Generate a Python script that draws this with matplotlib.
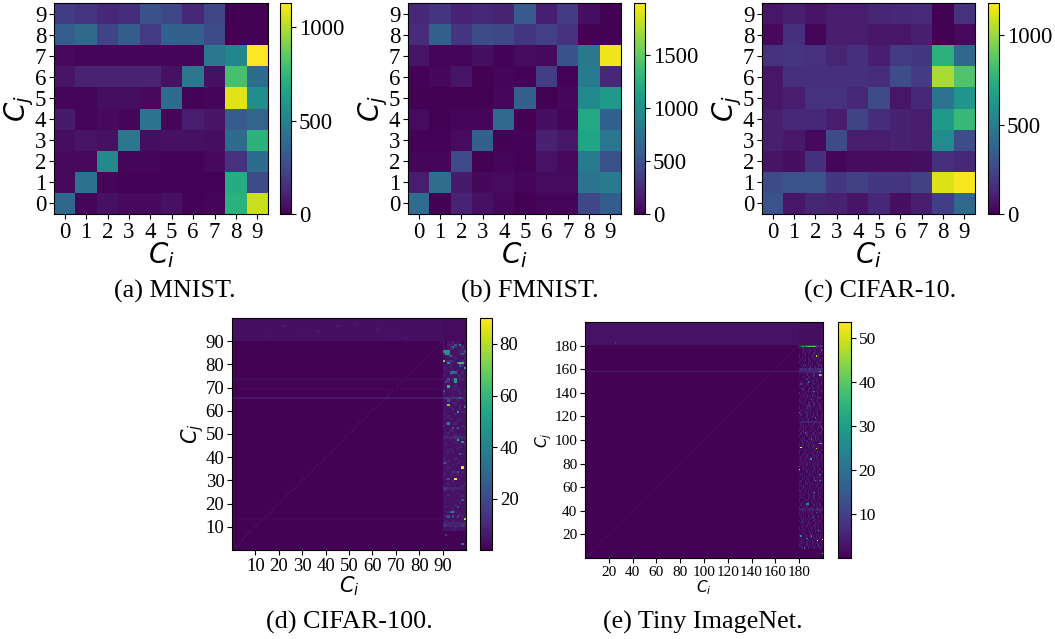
import matplotlib
matplotlib.use('Agg')
import matplotlib.pyplot as plt
import numpy as np

W, H = 1055, 639
plt.rcParams['font.family'] = ['Liberation Serif', 'DejaVu Serif']
plt.rcParams['mathtext.fontset'] = 'dejavusans'

# rows are listed from Cj = 0 upward
mnist = [
    [380, 15, 50, 30, 30, 50, 10, 15, 720, 1040],
    [30, 420, 15, 10, 10, 10, 10, 10, 700, 260],
    [30, 30, 540, 15, 15, 10, 10, 30, 160, 400],
    [40, 60, 50, 450, 40, 50, 50, 40, 400, 730],
    [80, 20, 30, 20, 430, 15, 90, 60, 330, 370],
    [20, 20, 40, 40, 30, 400, 10, 20, 1080, 560],
    [60, 110, 110, 110, 110, 50, 450, 50, 800, 400],
    [30, 15, 15, 15, 15, 15, 15, 450, 520, 1130],
    [340, 390, 230, 330, 190, 350, 350, 260, 0, 0],
    [200, 170, 130, 150, 280, 240, 130, 240, 0, 0],
]
fmnist = [
    [710, 10, 190, 90, 40, 5, 30, 30, 420, 590],
    [150, 710, 140, 40, 60, 30, 60, 60, 760, 820],
    [30, 25, 440, 10, 30, 20, 100, 50, 830, 500],
    [20, 20, 60, 620, 10, 20, 180, 130, 1170, 780],
    [60, 15, 30, 30, 680, 5, 80, 30, 1200, 620],
    [10, 10, 10, 5, 40, 610, 10, 40, 950, 1080],
    [20, 40, 110, 15, 30, 20, 360, 20, 810, 220],
    [110, 30, 30, 80, 20, 60, 50, 500, 800, 1950],
    [250, 620, 310, 460, 430, 320, 380, 290, 5, 5],
    [230, 300, 200, 230, 200, 570, 170, 340, 80, 10],
]
cifar10 = [
    [300, 70, 120, 110, 60, 130, 50, 90, 220, 410],
    [270, 300, 300, 190, 230, 190, 180, 230, 1120, 1170],
    [60, 50, 160, 20, 40, 40, 40, 50, 160, 130],
    [100, 80, 30, 270, 90, 90, 110, 90, 570, 280],
    [100, 130, 130, 90, 240, 150, 110, 90, 640, 790],
    [70, 90, 170, 170, 130, 270, 70, 130, 450, 620],
    [70, 160, 160, 160, 160, 150, 280, 210, 1030, 860],
    [170, 180, 170, 120, 160, 100, 200, 190, 760, 400],
    [30, 160, 15, 90, 90, 70, 70, 100, 5, 30],
    [70, 100, 60, 90, 90, 120, 130, 140, 5, 170],
]

# CIFAR-100 right strip, one string per row from Cj = 89 down, digit x 4
strip_100 = """
1011211101 1022111211 1012231131 1112212121 1111111221 2211111212 1122211111 1111121112
1223211121 1122112122 1112111121 2112111111 1211212111 1111211121 2112112211 1111111211
1111211221 1221121111 1111111111 1121121111 1111221211 1111112112 2111111211 1111211111
3333334331 1112112112 1111221111 1211121212 1112111211 1111211211 1211111122 2111121111
1121111111 1112111211 1111112111 1211121111 2111111121 1111112112 1112211111 1121111111
1211121211 2222233222 1112111111 1111121121 1211111112 1111111211 1112112111 1121211111
1211111121 1111111111 2111121111 1221111211 1111112111 1111211111 1121111121 1211111111
1111121121 2112112111 1111111111 1211111211 1111211111 1121111112 1111111121 3322222221
1211211111 1111112111 1121111121 1111111111 1211112111 1111111211 1111121111 1211111111
1111211111 1121121111 1111111211 1211111121 1111111111 1211211111 2222222222 3322222232
1111121111 1111211111
""".split()

# Tiny ImageNet right strip, one string per two rows from Cj = 179 down, digit x 2
strip_200 = """
33333333333333333333 10041012010201320211 00130010311012010121 10210301200021102101
20010301002110014010 10201002100211031001 01011301210012100310 20101001120100130101
01030102010201004210 00211010130012101021 23332323433323234332 22212222322232222322
10011021001130012010 00121003200120010201 10100130201011301001 01010010210310201021
04201021010021001120 20011201003100112010 01211001200210012010 00102013010200210113
30110201002010021010 01021020100311001001 01020110210010011310 21001201002110130010
01201002400120012011 10020112010021001201 20010021031010110210 01201012011001020110
01002110120010210011 12010021020110130012 11001020110310012011 00210013001101201020
12222223222223222221 01201002110120010201 01020110201200102110 21010201002110012013
10130010211012010021 02010021001120110210 20101020112013021001 01021001201102102011
01201020013020110210 10201012010200102012 20210011201121010020 10201102010210012011
01020110210012011021 20011201102110120110 00211021001020112011 12010021020110211012
11001201102010020110 01120110210012011021 11021020110120112001 20110201002011021001
00120112010021101201 20010020110211012011 01201002110201021001 01102010120110201201
00211012010021020110 12010201100110120112 21001120110201012010 01020101020110210012
10120010210201102110 21001201102010102011 01020112010021001201 11021002110120012011
11201002110120010201 20010211002011021001 10201012010201102010 02011021001020110201
20101020110210112011 22322212232221232222 10120010210201002110 21010201002110102011
01020102110120012011 01120110210012011021 10201102010020110210 01020011201002102011
00210120110021020110 20110201002102011010 01021001201002110201 10201100210201002011
20010210120010201102 01102010021020110201 10210012010201102010 02011020100210120011
21001020110201002011 01201102010020110201
""".split()

# (Ci, Cj, value) cells that stand out, read from the strips
hot_100 = [
    (90, 81, 70), (91, 85, 48), (92, 85, 48), (90, 85, 42), (91, 84, 50), (92, 84, 45), (93, 83, 30),
    (98, 35, 88), (95, 30, 88), (99, 13, 78), (92, 62, 72), (95, 72, 50), (95, 73, 50), (92, 70, 60),
    (99, 78, 55), (97, 80, 62), (98, 80, 60), (96, 80, 45), (92, 80, 45), (96, 59, 52), (92, 54, 40),
    (96, 47, 55), (98, 46, 45), (97, 88, 40), (94, 87, 35), (93, 76, 30), (94, 76, 32), (95, 76, 30),
    (94, 16, 40), (93, 16, 30), (98, 2, 35), (90, 68, 25), (99, 61, 35), (96, 52, 28), (94, 52, 22),
    (97, 65, 28), (91, 65, 18), (92, 64, 20), (90, 37, 20), (91, 37, 18), (96, 33, 22), (94, 33, 18),
    (92, 30, 22), (98, 21, 25), (96, 18, 22), (92, 14, 22), (94, 14, 22), (96, 14, 20), (95, 88, 22),
    (99, 85, 25), (98, 84, 22), (97, 79, 25), (92, 73, 20), (91, 72, 20), (97, 41, 25), (91, 6, 15),
]
hot_200 = [
    (182, 178, 38), (183, 178, 30), (185, 178, 28), (186, 178, 34), (187, 178, 36), (188, 178, 40),
    (189, 178, 40), (190, 178, 36), (191, 178, 40), (192, 178, 42), (193, 178, 35), (194, 170, 48),
    (197, 154, 42), (198, 154, 36), (197, 157, 30), (181, 93, 53), (194, 92, 50), (197, 96, 38),
    (198, 96, 36), (180, 74, 53), (193, 118, 35), (199, 15, 52), (195, 14, 50), (196, 23, 35),
    (181, 18, 28), (190, 18, 28), (189, 83, 28), (190, 83, 30), (187, 45, 30), (186, 45, 26),
    (199, 3, 40), (185, 162, 30), (193, 65, 30), (197, 65, 22), (180, 122, 28), (190, 133, 18),
    (192, 140, 22), (183, 142, 20), (188, 128, 20), (198, 175, 24), (183, 60, 18), (194, 38, 20),
    (185, 105, 22), (192, 55, 18), (196, 10, 22), (184, 8, 18), (198, 110, 20), (187, 148, 24),
    (195, 135, 22), (190, 100, 18), (182, 30, 20), (197, 70, 24), (191, 34, 22), (186, 16, 24),
]
band_100 = [(22, 96, 7), (36, 94, 7), (45, 96, 7), (53, 97, 7), (62, 95, 7), (68, 92, 7), (14, 92, 6), (74, 91, 7), (30, 93, 6)]
band_200 = [(25, 181, 8), (47, 196, 6), (82, 190, 6), (90, 198, 6), (120, 185, 5), (155, 192, 5), (60, 193, 5), (35, 187, 6)]
streaks_100 = [(65, 6), (73, 2.2), (69, 1.6), (13, 1.6)]
streaks_200 = [(157, 3.5)]

ticks_d = [10, 20, 30, 40, 50, 60, 70, 80, 90]
ticks_e = [20, 40, 60, 80, 100, 120, 140, 160, 180]
captions = ['(a) MNIST.', '(b) FMNIST.', '(c) CIFAR-10.', '(d) CIFAR-100.', '(e) Tiny ImageNet.']

fig = plt.figure(figsize=(W / 100, H / 100), dpi=100)


def px_axes(x0, y0, x1, y1):
    return fig.add_axes([x0 / W, 1 - y1 / H, (x1 - x0) / W, (y1 - y0) / H])


def big_matrix(n, split, base, band, corner, diag, streaks, strip, digit, step, hot, spots):
    m = np.full((n, n), float(base))
    m[split:, :] = band
    m[split:, split:] = corner
    m[np.arange(split), np.arange(split)] = diag
    for r, v in streaks:
        m[r, :split] = v
    for k, line in enumerate(strip):
        for r in range(split - 1 - k * step, split - 1 - (k + 1) * step, -1):
            if r >= 0:
                m[r, split:] = [int(c) * digit + 0.5 for c in line]
    for c, r, v in hot + spots:
        m[r, c] = v
    return m


def draw(data, box, cbox, vmin, vmax, cticks, tfs, cfs, lfs, lpad, edges=None, ticks=None):
    ax = px_axes(*box)
    cax = px_axes(*cbox)
    m = np.array(data, dtype=float)
    if edges is None:
        im = ax.imshow(m, origin='lower', cmap='viridis', vmin=vmin, vmax=vmax, aspect='auto', interpolation='nearest')
        ax.set_xticks(range(10))
        ax.set_yticks(range(10))
    else:
        im = ax.imshow(m, origin='lower', cmap='viridis', vmin=vmin, vmax=vmax, aspect='auto',
                       interpolation='nearest', extent=[0, edges, 0, edges])
        ax.set_xticks(ticks)
        ax.set_yticks(ticks)
    ax.tick_params(labelsize=tfs, length=3.5, width=0.8, pad=2)
    ax.set_xlabel('$C_i$', fontsize=lfs, labelpad=lpad[0])
    ax.set_ylabel('$C_j$', fontsize=lfs, labelpad=lpad[1])
    cb = fig.colorbar(im, cax=cax)
    cb.set_ticks(cticks)
    cb.ax.tick_params(labelsize=cfs, length=3.5, width=0.8, pad=2)
    return ax


draw(mnist, (54, 3, 268, 214), (280, 3, 291, 214), 0, 1130, [0, 500, 1000], 16.5, 16.5, 20, (-2, -1))
draw(fmnist, (408, 3, 621, 214), (634, 3, 645, 214), 0, 1990, [0, 500, 1000, 1500], 16.5, 16.5, 20, (-2, -1))
draw(cifar10, (762, 3, 975, 214), (988, 3, 999, 214), 0, 1180, [0, 500, 1000], 16.5, 16.5, 20, (-2, -1))

m100 = big_matrix(100, 90, 0.8, 4, 3, 3, streaks_100, strip_100, 4, 1, hot_100, band_100)
draw(m100, (232, 318, 466, 550), (480, 318, 492, 550), 0.2, 90, [20, 40, 60, 80], 13.5, 13.5, 15, (0, 0), 100, ticks_d)
m200 = big_matrix(200, 180, 0.4, 2.6, 2, 2, streaks_200, strip_200, 2, 2, hot_200, band_200)
draw(m200, (585, 322, 823, 558), (838, 322, 851, 558), 0, 53.6, [10, 20, 30, 40, 50], 11, 12.5, 11, (0, 0), 200, ticks_e)

cap_pos = [(175, 291), (530, 291), (880, 291), (349, 622), (703, 622)]
for t, (x, y) in zip(captions, cap_pos):
    fig.text(x / W, 1 - y / H, t, ha='center', va='center', fontsize=18.8)

fig.savefig('out.png', dpi=100)
